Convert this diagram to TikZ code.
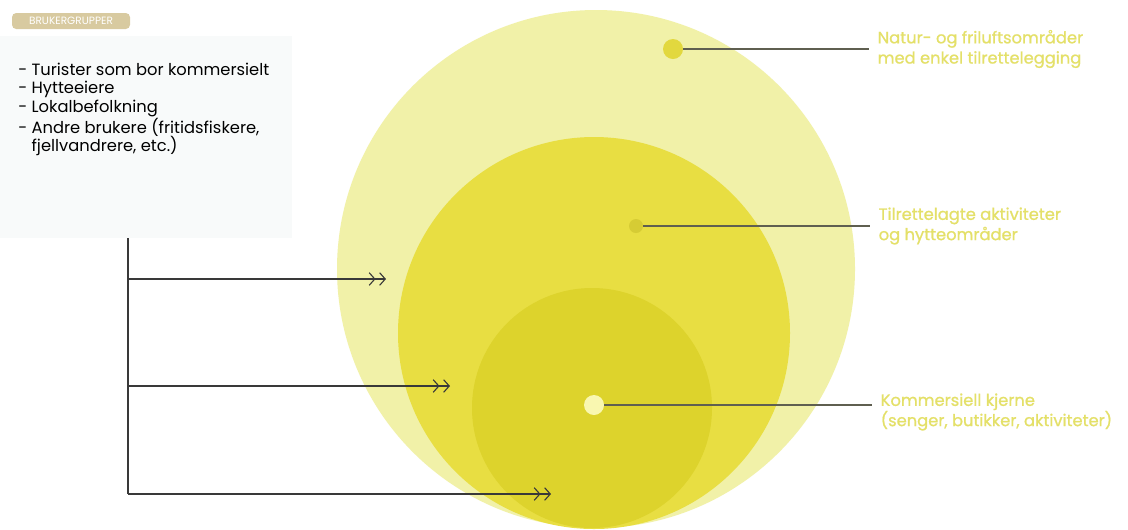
\documentclass[tikz,border=0pt]{standalone}
\usepackage{fontspec}
\setmainfont{Poppins}
\newfontfamily\zonefont{Poppins}[FakeBold=0.9]
\usepackage{tikz}
\usetikzlibrary{arrows.meta,positioning}

\definecolor{ringouter}{RGB}{241,241,168}
\definecolor{ringmid}{RGB}{232,222,66}
\definecolor{ringcore}{RGB}{221,211,44}
\definecolor{dotouter}{RGB}{226,216,62}
\definecolor{dotmid}{RGB}{214,204,52}
\definecolor{dotcore}{RGB}{249,247,176}
\definecolor{labelyellow}{RGB}{228,224,104}
\definecolor{tagtan}{RGB}{216,202,160}
\definecolor{panelgray}{RGB}{248,250,250}
\definecolor{leadgray}{RGB}{95,95,80}

\begin{document}
\begin{tikzpicture}[
        x=0.025cm, y=-0.025cm,
        every node/.style={font=\fontsize{11.6}{13}\selectfont},
        spot/.style={circle, inner sep=0pt, minimum size=#1},
        lbl/.style={anchor=west, align=left, inner xsep=6pt, text=labelyellow,
            font=\zonefont\fontsize{11.6}{14.4}\selectfont},
        lead/.style={leadgray, line width=0.9pt},
        feed/.style={gray!45!black, line width=0.8pt,
            -{Straight Barb[length=4pt,width=9pt,sep=2.5pt]Straight Barb[length=4pt,width=9pt]}},
        trunk/.style={gray!45!black, line width=0.8pt}
    ]
        \useasboundingbox (0,0) rectangle (1128,529);
        \fill[white] (0,0) rectangle (1128,529);

        % user groups panel
        \fill[panelgray] (0,36) rectangle (292,238);
        \node[fill=tagtan, rounded corners=3pt, text=white, inner sep=2pt,
            minimum width=118*0.025cm, minimum height=16*0.025cm,
            font=\fontsize{7.5}{8}\selectfont] (tag) at (71,21) {BRUKERGRUPPER};
        \node[anchor=north west, align=left, inner sep=0pt] (groups) at (18,63)
            {- Turister som bor kommersielt\\
             - Hytteeiere\\
             - Lokalbefolkning\\
             - Andre brukere (fritidsfiskere,\\
             \phantom{- }fjellvandrere, etc.)};

        % zones
        \fill[ringouter] (596,269) circle [radius=259];
        \fill[ringmid] (594,333) circle [radius=196];
        \fill[ringcore] (592,408) circle [radius=120];

        \node[spot=20*0.025cm, fill=dotouter] (natdot) at (673,49) {};
        \node[spot=14*0.025cm, fill=dotmid] (actdot) at (636,226) {};
        \node[spot=20*0.025cm, fill=dotcore] (coredot) at (594,405) {};

        \node[lbl] (natur) at (869,49) {Natur- og friluftsområder\\med enkel tilrettelegging};
        \node[lbl] (aktiv) at (870,226) {Tilrettelagte aktiviteter\\og hytteområder};
        \node[lbl] (kjerne) at (872,412) {Kommersiell kjerne\\(senger, butikker, aktiviteter)};

        \draw[lead] (natdot) -- (natdot -| natur.west);
        \draw[lead] (actdot) -- (actdot -| aktiv.west);
        \draw[lead] (coredot) -- (coredot -| kjerne.west);

        % arrows into the zones
        \coordinate (root) at (128,238);
        \coordinate (tipA) at (386,279);
        \coordinate (tipB) at (450,386);
        \coordinate (tipC) at (551,494);

        \draw[trunk] (root) -- (root |- tipC);
        \draw[feed] (root |- tipA) -- (tipA);
        \draw[feed] (root |- tipB) -- (tipB);
        \draw[feed] (root |- tipC) -- (tipC);
    \end{tikzpicture}
\end{document}
